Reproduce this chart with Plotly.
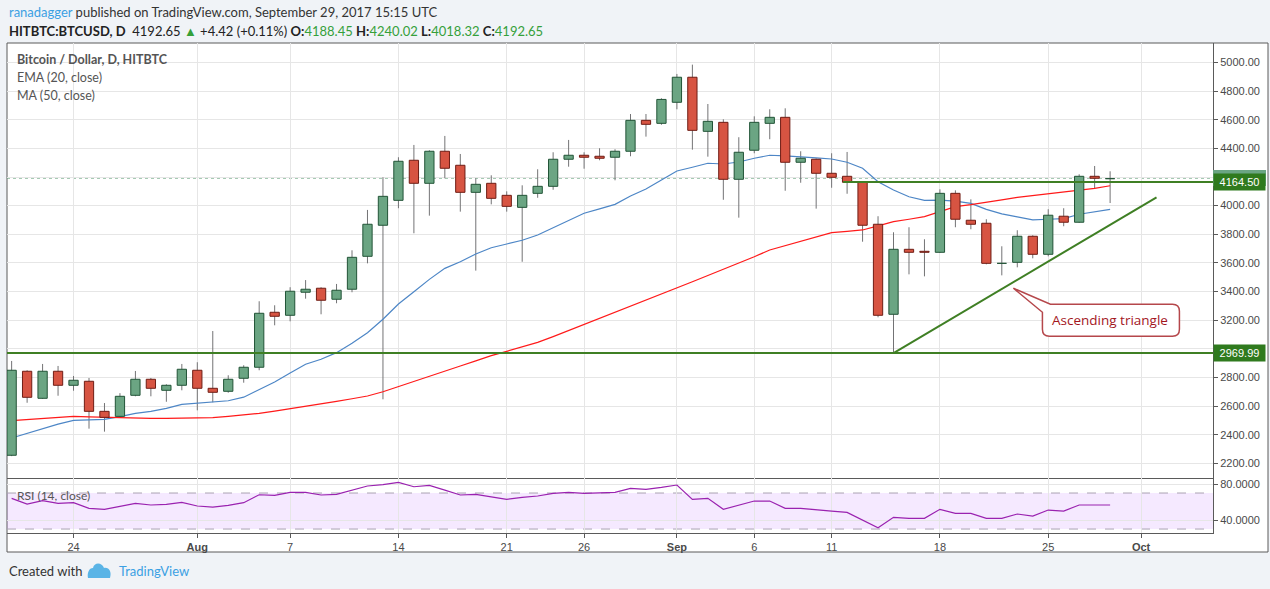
import pandas as pd
import plotly.graph_objects as go

# ---------------- data ----------------
dates = pd.date_range("2017-07-20", "2017-09-29", freq="D")

open_ = [2256, 2843, 2654, 2843, 2745, 2773, 2563, 2528, 2675, 2787,
         2710, 2745, 2850, 2724, 2703, 2794, 2871, 3255, 3234, 3395,
         3423, 3346, 3416, 3646, 3863, 4037, 4317, 4156, 4380, 4282,
         4093, 4156, 4072, 3988, 4086, 4135, 4324, 4352, 4345, 4338,
         4380, 4596, 4575, 4722, 4897, 4519, 4582, 4184, 4387, 4575,
         4617, 4303, 4324, 4226, 4205, 4163, 3870, 3241, 3695, 3681,
         3674, 4086, 3898, 3877, 3597, 3604, 3786, 3660, 3926, 3884,
         4205, 4188.45]
high_ = [2915, 2850, 2894, 2880, 2810, 2796, 2621, 2690, 2845, 2796,
         2752, 2894, 2906, 3124, 2815, 2885, 3332, 3304, 3430, 3480,
         3430, 3453, 3688, 3970, 4198, 4338, 4424, 4387, 4487, 4361,
         4191, 4212, 4100, 4142, 4254, 4373, 4459, 4373, 4401, 4394,
         4640, 4640, 4750, 4920, 4985, 4710, 4603, 4478, 4624, 4673,
         4680, 4380, 4330, 4366, 4375, 4170, 3926, 3814, 3849, 3765,
         4114, 4107, 4044, 3905, 3716, 3828, 3793, 3975, 3982, 4219,
         4277, 4240.02]
low_ = [2250, 2623, 2650, 2672, 2707, 2442, 2421, 2520, 2668, 2668,
        2630, 2710, 2570, 2626, 2693, 2763, 2850, 3164, 3192, 3350,
        3241, 3318, 3395, 3597, 2647, 3982, 3807, 3930, 4191, 3958,
        3546, 4009, 3958, 3608, 4055, 4111, 4272, 4258, 4317, 4177,
        4345, 4482, 4565, 4673, 4391, 4342, 4041, 3916, 4366, 4464,
        4104, 4160, 3979, 4125, 4083, 3748, 3220, 2969.99, 3520, 3506,
        3670, 3849, 3835, 3590, 3513, 3569, 3632, 3646, 3856, 3880,
        4121, 4018.32]
close_ = [2850, 2661, 2843, 2745, 2780, 2563, 2521, 2668, 2787, 2724,
          2745, 2857, 2724, 2696, 2787, 2871, 3248, 3227, 3402, 3416,
          3339, 3409, 3639, 3870, 4065, 4310, 4156, 4380, 4261, 4093,
          4149, 4051, 3995, 4072, 4135, 4324, 4352, 4338, 4331, 4380,
          4596, 4568, 4742, 4897, 4526, 4589, 4184, 4373, 4582, 4617,
          4303, 4331, 4226, 4198, 4163, 3863, 3234, 3695, 3674, 3674,
          4086, 3905, 3870, 3597, 3600, 3786, 3660, 3933, 3884, 4205,
          4191, 4192.65]

ema20 = [2377, 2410, 2444, 2474, 2500, 2503, 2507, 2526, 2549, 2563,
         2584, 2612, 2619, 2626, 2637, 2662, 2714, 2768, 2831, 2892,
         2927, 2973, 3038, 3112, 3206, 3313, 3399, 3485, 3562, 3608,
         3662, 3706, 3732, 3758, 3795, 3846, 3898, 3947, 3977, 4009,
         4067, 4116, 4179, 4242, 4268, 4296, 4291, 4305, 4331, 4352,
         4347, 4342, 4333, 4326, 4303, 4261, 4167, 4109, 4062, 4037,
         4039, 4032, 4016, 3974, 3942, 3921, 3900, 3905, 3909, 3940,
         3958, 3974]

ma50 = [2498, 2506, 2513, 2520, 2528, 2525, 2521, 2518, 2515, 2514,
        2514, 2514, 2514, 2519, 2528, 2537, 2549, 2565, 2581, 2598,
        2615, 2633, 2651, 2670, 2700, 2735, 2770, 2805, 2843, 2880,
        2916, 2952, 2982, 3012, 3045, 3085, 3127, 3170, 3213, 3255,
        3297, 3340, 3383, 3425, 3468, 3512, 3555, 3600, 3643, 3690,
        3720, 3751, 3781, 3811, 3820, 3830, 3859, 3888, 3905, 3923,
        3958, 3993, 4007, 4021, 4040, 4058, 4070, 4081, 4095, 4109,
        4121, 4139]

rsi14 = [64.1, 57.8, 61.5, 58.5, 59.3, 53.0, 51.9, 54.8, 58.5, 56.7,
         57.4, 59.6, 55.6, 54.4, 56.3, 59.3, 68.1, 67.4, 70.7, 70.7,
         67.8, 68.5, 73.3, 77.8, 79.3, 81.8, 77.0, 78.5, 73.3, 67.8,
         68.5, 65.9, 63.0, 65.2, 66.7, 69.6, 70.7, 69.6, 70.0, 70.7,
         75.2, 74.1, 76.3, 78.9, 63.0, 64.1, 51.9, 56.7, 61.1, 61.1,
         53.0, 53.0, 51.1, 50.0, 48.5, 40.0, 31.5, 43.0, 41.9, 41.9,
         51.9, 47.4, 47.4, 41.9, 41.9, 46.7, 44.4, 51.1, 50.0, 56.7,
         56.7, 56.7]

tick_dates = ["2017-07-24", "2017-08-01", "2017-08-07", "2017-08-14", "2017-08-21",
              "2017-08-26", "2017-09-01", "2017-09-06", "2017-09-11", "2017-09-18",
              "2017-09-25", "2017-10-01"]
tick_text = ["24", "<b>Aug</b>", "7", "14", "21", "26", "<b>Sep</b>", "6", "11",
             "18", "25", "<b>Oct</b>"]
price_ticks = list(range(2200, 5001, 200))
rsi_ticks = [80, 40]

support_level = 2969.99
resistance_level = 4164.50
resistance_start = "2017-09-11 18:00"
triangle_start = ("2017-09-15", 2969.99)
triangle_end = ("2017-10-02", 4058)
callout_tip = ("2017-09-22 18:00", 3423)
change_text = "+4.42 (+0.11%)"

# ---------------- helpers ----------------
t0 = dates[0]


def day_index(d):
    return (pd.Timestamp(d) - t0) / pd.Timedelta(days=1)


xi = [day_index(d) for d in dates]
tick_idx = [day_index(d) for d in tick_dates]
x_range = [-0.30, 77.65]
price_range = [2097.3, 5136.2]
rsi_range = [25.6, 86.7]
split = 55 / 490

GREEN_FILL, GREEN_LINE = "#6ba583", "#225437"
RED_FILL, RED_LINE = "#d75442", "#6f1d15"
WICK = "#737375"
TL_GREEN = "#3f7f24"
AXIS_FONT = dict(family="Liberation Sans, Arial", size=11, color="#4a4a4a")

fig = go.Figure()

# wicks
wx, wy = [], []
for x, h, l in zip(xi, high_, low_):
    wx += [x, x, None]
    wy += [l, h, None]
fig.add_trace(go.Scatter(x=wx, y=wy, mode="lines", line=dict(color=WICK, width=1),
                         hoverinfo="skip", xaxis="x", yaxis="y"))

# moving averages
fig.add_trace(go.Scatter(x=xi, y=ema20, mode="lines", line=dict(color="#4d86c6", width=1.2),
                         name="EMA (20, close)", xaxis="x", yaxis="y"))
fig.add_trace(go.Scatter(x=xi, y=ma50, mode="lines", line=dict(color="#ff1a1a", width=1.2),
                         name="MA (50, close)", xaxis="x", yaxis="y"))

# candle bodies
half = 0.30
for up, fillc, linec in [(True, GREEN_FILL, GREEN_LINE), (False, RED_FILL, RED_LINE)]:
    bx, by = [], []
    for x, o, c in zip(xi, open_, close_):
        if (c >= o) != up:
            continue
        bx += [x - half, x + half, x + half, x - half, x - half, None]
        by += [o, o, c, c, o, None]
    fig.add_trace(go.Scatter(x=bx, y=by, mode="lines", fill="toself", fillcolor=fillc,
                             line=dict(color=linec, width=1), hoverinfo="skip",
                             xaxis="x", yaxis="y"))

# RSI
fig.add_trace(go.Scatter(x=xi, y=rsi14, mode="lines", line=dict(color="#9a22b0", width=1.2),
                         name="RSI (14, close)", xaxis="x2", yaxis="y2"))

labels_levels = [support_level, resistance_level, close_[-1]]
price_ticktext = ["" if any(abs(v - lv) < 100 for lv in labels_levels) else f"{v:.2f}"
                  for v in price_ticks]

px0, px1 = 7, 1213
py0, py1 = 43, 533


def paper_x(px):
    return (px - px0) / (px1 - px0)


def paper_y(py):
    return (py1 - py) / (py1 - py0)


shapes = [
    # white chart frame
    dict(type="rect", xref="paper", yref="paper", x0=paper_x(7), x1=paper_x(1268),
         y0=paper_y(552), y1=paper_y(43), fillcolor="white",
         line=dict(color="#5a5a5a", width=1), layer="below"),
    # RSI band
    dict(type="rect", xref="paper", yref="y2", x0=0, x1=1, y0=30, y1=70,
         fillcolor="rgba(155,40,255,0.10)", line=dict(width=0), layer="below"),
    dict(type="line", xref="paper", yref="y2", x0=0, x1=1, y0=70, y1=70,
         line=dict(color="#aaa3b2", width=1, dash="dash"), layer="below"),
    dict(type="line", xref="paper", yref="y2", x0=0, x1=1, y0=30, y1=30,
         line=dict(color="#aaa3b2", width=1, dash="dash"), layer="below"),
    # last price dotted line
    dict(type="line", xref="paper", yref="y", x0=0, x1=1, y0=close_[-1], y1=close_[-1],
         line=dict(color="#5e9e76", width=1, dash="dot"), layer="below"),
    # last price axis marker (mostly hidden behind the resistance label)
    dict(type="rect", xref="paper", yref="y", ysizemode="pixel", yanchor=close_[-1],
         x0=1, x1=paper_x(1266), y0=-8, y1=8, fillcolor="#6ba583",
         line=dict(width=0), layer="above"),
    # support / resistance / triangle
    dict(type="line", xref="paper", yref="y", x0=0, x1=1, y0=support_level, y1=support_level,
         line=dict(color=TL_GREEN, width=2), layer="above"),
    dict(type="line", xref="x", yref="y", x0=day_index(resistance_start), x1=x_range[1],
         y0=resistance_level, y1=resistance_level,
         line=dict(color=TL_GREEN, width=2), layer="above"),
    dict(type="line", xref="x", yref="y", x0=day_index(triangle_start[0]), y0=triangle_start[1],
         x1=day_index(triangle_end[0]), y1=triangle_end[1],
         line=dict(color=TL_GREEN, width=2), layer="above"),
    # callout
    dict(type="path", xref="x", yref="y", xsizemode="pixel", ysizemode="pixel",
         xanchor=day_index(callout_tip[0]), yanchor=callout_tip[1],
         path="M 0 0 L 37 -16 L 159 -16 Q 166 -16 166 -23 L 166 -41 Q 166 -48 159 -48 "
              "L 36 -48 Q 29 -48 29 -41 L 29 -24 Z",
         fillcolor="white", line=dict(color="#b5474b", width=1.5), layer="above"),
    # TradingView logo (approximate)
    dict(type="path", xref="paper", yref="paper", xsizemode="pixel", ysizemode="pixel",
         xanchor=paper_x(88), yanchor=paper_y(578),
         path="M 0 0 L 22 0 C 24 6 21 11 16 10 C 14 16 6 16 5 10 C 1 10 -1 5 0 0 Z",
         fillcolor="#5ab4e6", line=dict(width=0), layer="above"),
]

GREEN_TXT = "#35a03a"
hdr2 = (f"<b>HITBTC:BTCUSD, D</b>  {close_[-1]:.2f} <span style='color:{GREEN_TXT}'>▲</span> "
        f"{change_text} <b>O:</b><span style='color:{GREEN_TXT}'>{open_[-1]:.2f}</span> "
        f"<b>H:</b><span style='color:{GREEN_TXT}'>{high_[-1]:.2f}</span> "
        f"<b>L:</b><span style='color:{GREEN_TXT}'>{low_[-1]:.2f}</span> "
        f"<b>C:</b><span style='color:{GREEN_TXT}'>{close_[-1]:.2f}</span>")

TXT_FONT = "Lato, Open Sans, sans-serif"
LABEL_FONT = dict(family="Liberation Sans, Arial", size=11, color="white")
annotations = [
    dict(xref="paper", yref="paper", x=paper_x(7), y=paper_y(12), xanchor="left", yanchor="middle",
         text="<span style='color:#3ba0e3'>ranadagger</span> published on TradingView.com, "
              "September 29, 2017 15:15 UTC",
         showarrow=False, font=dict(family=TXT_FONT, size=13, color="#333")),
    dict(xref="paper", yref="paper", x=paper_x(7), y=paper_y(31), xanchor="left", yanchor="middle",
         text=hdr2, showarrow=False, font=dict(family=TXT_FONT, size=13, color="#222")),
    dict(xref="paper", yref="paper", x=paper_x(15), y=paper_y(60), xanchor="left", yanchor="middle",
         text="<b>Bitcoin / Dollar, D, HITBTC</b>", showarrow=False,
         font=dict(family=TXT_FONT, size=12.5, color="#555")),
    dict(xref="paper", yref="paper", x=paper_x(15), y=paper_y(78), xanchor="left", yanchor="middle",
         text="EMA (20, close)", showarrow=False, font=dict(family=TXT_FONT, size=12.5, color="#555")),
    dict(xref="paper", yref="paper", x=paper_x(15), y=paper_y(95), xanchor="left", yanchor="middle",
         text="MA (50, close)", showarrow=False, font=dict(family=TXT_FONT, size=12.5, color="#555")),
    dict(xref="paper", yref="paper", x=paper_x(15), y=paper_y(495), xanchor="left", yanchor="middle",
         text="RSI (14, close)", showarrow=False, font=dict(family=TXT_FONT, size=12, color="#555")),
    dict(xref="paper", yref="paper", x=paper_x(7), y=paper_y(571), xanchor="left", yanchor="middle",
         text="Created with", showarrow=False, font=dict(family=TXT_FONT, size=13, color="#333")),
    dict(xref="paper", yref="paper", x=paper_x(117), y=paper_y(571), xanchor="left", yanchor="middle",
         text="TradingView", showarrow=False, font=dict(family=TXT_FONT, size=13, color="#3ba0e3")),
    # callout text
    dict(xref="x", yref="y", x=day_index(callout_tip[0]), y=callout_tip[1], xshift=97, yshift=-32,
         text="Ascending triangle", showarrow=False,
         font=dict(family="Open Sans, sans-serif", size=13.5, color="#a3161d")),
    # axis price labels
    dict(xref="paper", yref="y", x=1, y=resistance_level, xanchor="left", yanchor="middle",
         text=f"{resistance_level:.2f}", showarrow=False, bgcolor="#2f7a1e", width=49, height=14,
         align="center", borderpad=1, font=LABEL_FONT),
    dict(xref="paper", yref="y", x=1, y=support_level, xanchor="left", yanchor="middle",
         text=f"{support_level:.2f}", showarrow=False, bgcolor="#2f7a1e", width=49, height=14,
         align="center", borderpad=1, font=LABEL_FONT),
]

GRID = "#e6e6e6"
fig.update_layout(
    width=1270, height=589,
    margin=dict(l=7, r=57, t=43, b=56),
    paper_bgcolor="#f0f3f7", plot_bgcolor="white",
    showlegend=False,
    shapes=shapes, annotations=annotations,
    xaxis=dict(domain=[0, 1], anchor="y", range=x_range, tickvals=tick_idx,
               showticklabels=False, showgrid=True, gridcolor=GRID, zeroline=False,
               showline=True, linecolor="#5a5a5a", ticks=""),
    yaxis=dict(domain=[split, 1], anchor="x", side="right", range=price_range,
               tickvals=price_ticks, ticktext=price_ticktext, showgrid=True, gridcolor=GRID,
               zeroline=False, showline=True, linecolor="#5a5a5a", ticks="outside",
               ticklen=4, tickcolor="#5a5a5a", tickfont=AXIS_FONT),
    xaxis2=dict(domain=[0, 1], anchor="y2", matches="x", range=x_range, tickvals=tick_idx,
                ticktext=tick_text, showgrid=True, gridcolor=GRID, zeroline=False,
                showline=True, linecolor="#5a5a5a", ticks="outside", ticklen=4,
                tickcolor="#5a5a5a", tickfont=AXIS_FONT),
    yaxis2=dict(domain=[0, split], anchor="x2", side="right", range=rsi_range,
                tickvals=rsi_ticks, ticktext=[f"{v:.4f}" for v in rsi_ticks], showgrid=True,
                gridcolor=GRID, zeroline=False, showline=True, linecolor="#5a5a5a",
                ticks="outside", ticklen=4, tickcolor="#5a5a5a", tickfont=AXIS_FONT),
)

fig.write_html(
    "out.html",
    config={"displayModeBar": False},
    post_script="document.body.style.margin='0px';document.body.style.background='#f0f3f7';",
)
